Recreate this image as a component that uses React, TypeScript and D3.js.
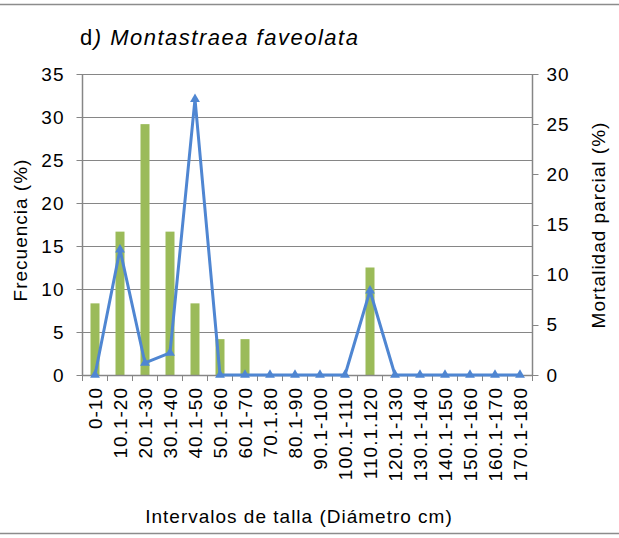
import React from "react";
import * as d3 from "d3";

const categories = ["0-10", "10.1-20", "20.1-30", "30.1-40", "40.1-50", "50.1-60", "60.1-70", "70.1.80", "80.1-90", "90.1-100", "100.1-110", "110.1.120", "120.1-130", "130.1-140", "140.1-150", "150.1-160", "160.1-170", "170.1-180"];
const frecuencia = [8.33, 16.67, 29.17, 16.67, 8.33, 4.17, 4.17, 0, 0, 0, 0, 12.5, 0, 0, 0, 0, 0, 0];
const mortalidad = [0, 12.5, 1.2, 2.2, 27.5, 0, 0, 0, 0, 0, 0, 8.4, 0, 0, 0, 0, 0, 0];
const leftTicks = [0, 5, 10, 15, 20, 25, 30, 35];
const rightTicks = [0, 5, 10, 15, 20, 25, 30];

const W = 619, H = 538;
const L = 82.5, R = 532.5, T = 74, B = 375;
const FONT = "'Liberation Sans', Arial, sans-serif";
const GRID = "#868686";
const BAR = "#9BBB59";
const LINE = "#4F86D2";
const FS = 19;
const LS = 1;

export default function App() {
  const x = d3.scaleBand<string>().domain(categories).range([L, R]);
  const yL = d3.scaleLinear().domain([0, 35]).range([B, T]);
  const yR = d3.scaleLinear().domain([0, 30]).range([B, T]);
  const bw = x.bandwidth() * 0.36;
  const line = d3.line<number>().x((_, i) => x(categories[i])! + x.bandwidth() / 2).y((d) => yR(d));
  const tri = d3.symbol().type(d3.symbolTriangle).size(42)();
  return (
    <svg width={W} height={H} style={{ position: "absolute", left: 0, top: 0 }} fontFamily={FONT}>
      <rect x={0} y={0} width={W} height={H} fill="#fff" />
      <line x1={0} x2={W} y1={4.5} y2={4.5} stroke="#8c8c8c" strokeWidth={1.5} />
      <line x1={0} x2={W} y1={533.5} y2={533.5} stroke="#8c8c8c" strokeWidth={1.5} />
      <text x={80} y={45} fontSize={22} letterSpacing={1.5} fill="#000">
        d<tspan fontStyle="italic">) Montastraea faveolata</tspan>
      </text>
      {leftTicks.map((t) => (
        <g key={"g" + t}>
          <line x1={L - 6} x2={R} y1={Math.round(yL(t)) + 0.5} y2={Math.round(yL(t)) + 0.5} stroke={GRID} strokeWidth={1} />
          <text x={L - 18} y={yL(t) + 6.5} fontSize={FS} letterSpacing={LS} textAnchor="end">{t}</text>
        </g>
      ))}
      {rightTicks.map((t) => (
        <g key={"r" + t}>
          <line x1={R} x2={R + 6} y1={Math.round(yR(t)) + 0.5} y2={Math.round(yR(t)) + 0.5} stroke={GRID} strokeWidth={1} />
          <text x={R + 14} y={yR(t) + 6.5} fontSize={FS} letterSpacing={LS} textAnchor="start">{t}</text>
        </g>
      ))}
      <line x1={L} x2={L} y1={T} y2={B} stroke={GRID} strokeWidth={1.5} />
      <line x1={R} x2={R} y1={T} y2={B} stroke={GRID} strokeWidth={1.5} />
      {categories.map((c, i) => (
        <line key={"xt" + i} x1={x(c)!} x2={x(c)!} y1={B} y2={B + 6} stroke={GRID} strokeWidth={1} />
      ))}
      <line x1={R} x2={R} y1={B} y2={B + 6} stroke={GRID} strokeWidth={1} />
      {frecuencia.map((v, i) =>
        v > 0 ? (
          <rect key={"b" + i} x={x(categories[i])! + x.bandwidth() / 2 - bw / 2} y={yL(v)} width={bw} height={B - yL(v)} fill={BAR} />
        ) : null
      )}
      <line x1={L} x2={R} y1={B + 0.5} y2={B + 0.5} stroke={GRID} strokeWidth={1.5} />
      <path d={line(mortalidad)!} fill="none" stroke={LINE} strokeWidth={3} strokeLinejoin="round" />
      {mortalidad.map((v, i) => (
        <path key={"m" + i} d={tri!} transform={`translate(${x(categories[i])! + x.bandwidth() / 2},${yR(v)})`} fill={LINE} />
      ))}
      {categories.map((c, i) => (
        <text key={"xl" + i} transform={`translate(${x(c)! + x.bandwidth() / 2 + 7},387) rotate(-90)`} fontSize={FS} letterSpacing={LS} textAnchor="end">{c}</text>
      ))}
      <text transform="translate(27,230) rotate(-90)" fontSize={FS} letterSpacing={LS} textAnchor="middle">Frecuencia (%)</text>
      <text transform="translate(605,225) rotate(-90)" fontSize={FS} letterSpacing={LS} textAnchor="middle">Mortalidad parcial (%)</text>
      <text x={299} y={523} fontSize={FS} letterSpacing={LS} textAnchor="middle">Intervalos de talla (Diámetro cm)</text>
    </svg>
  );
}
